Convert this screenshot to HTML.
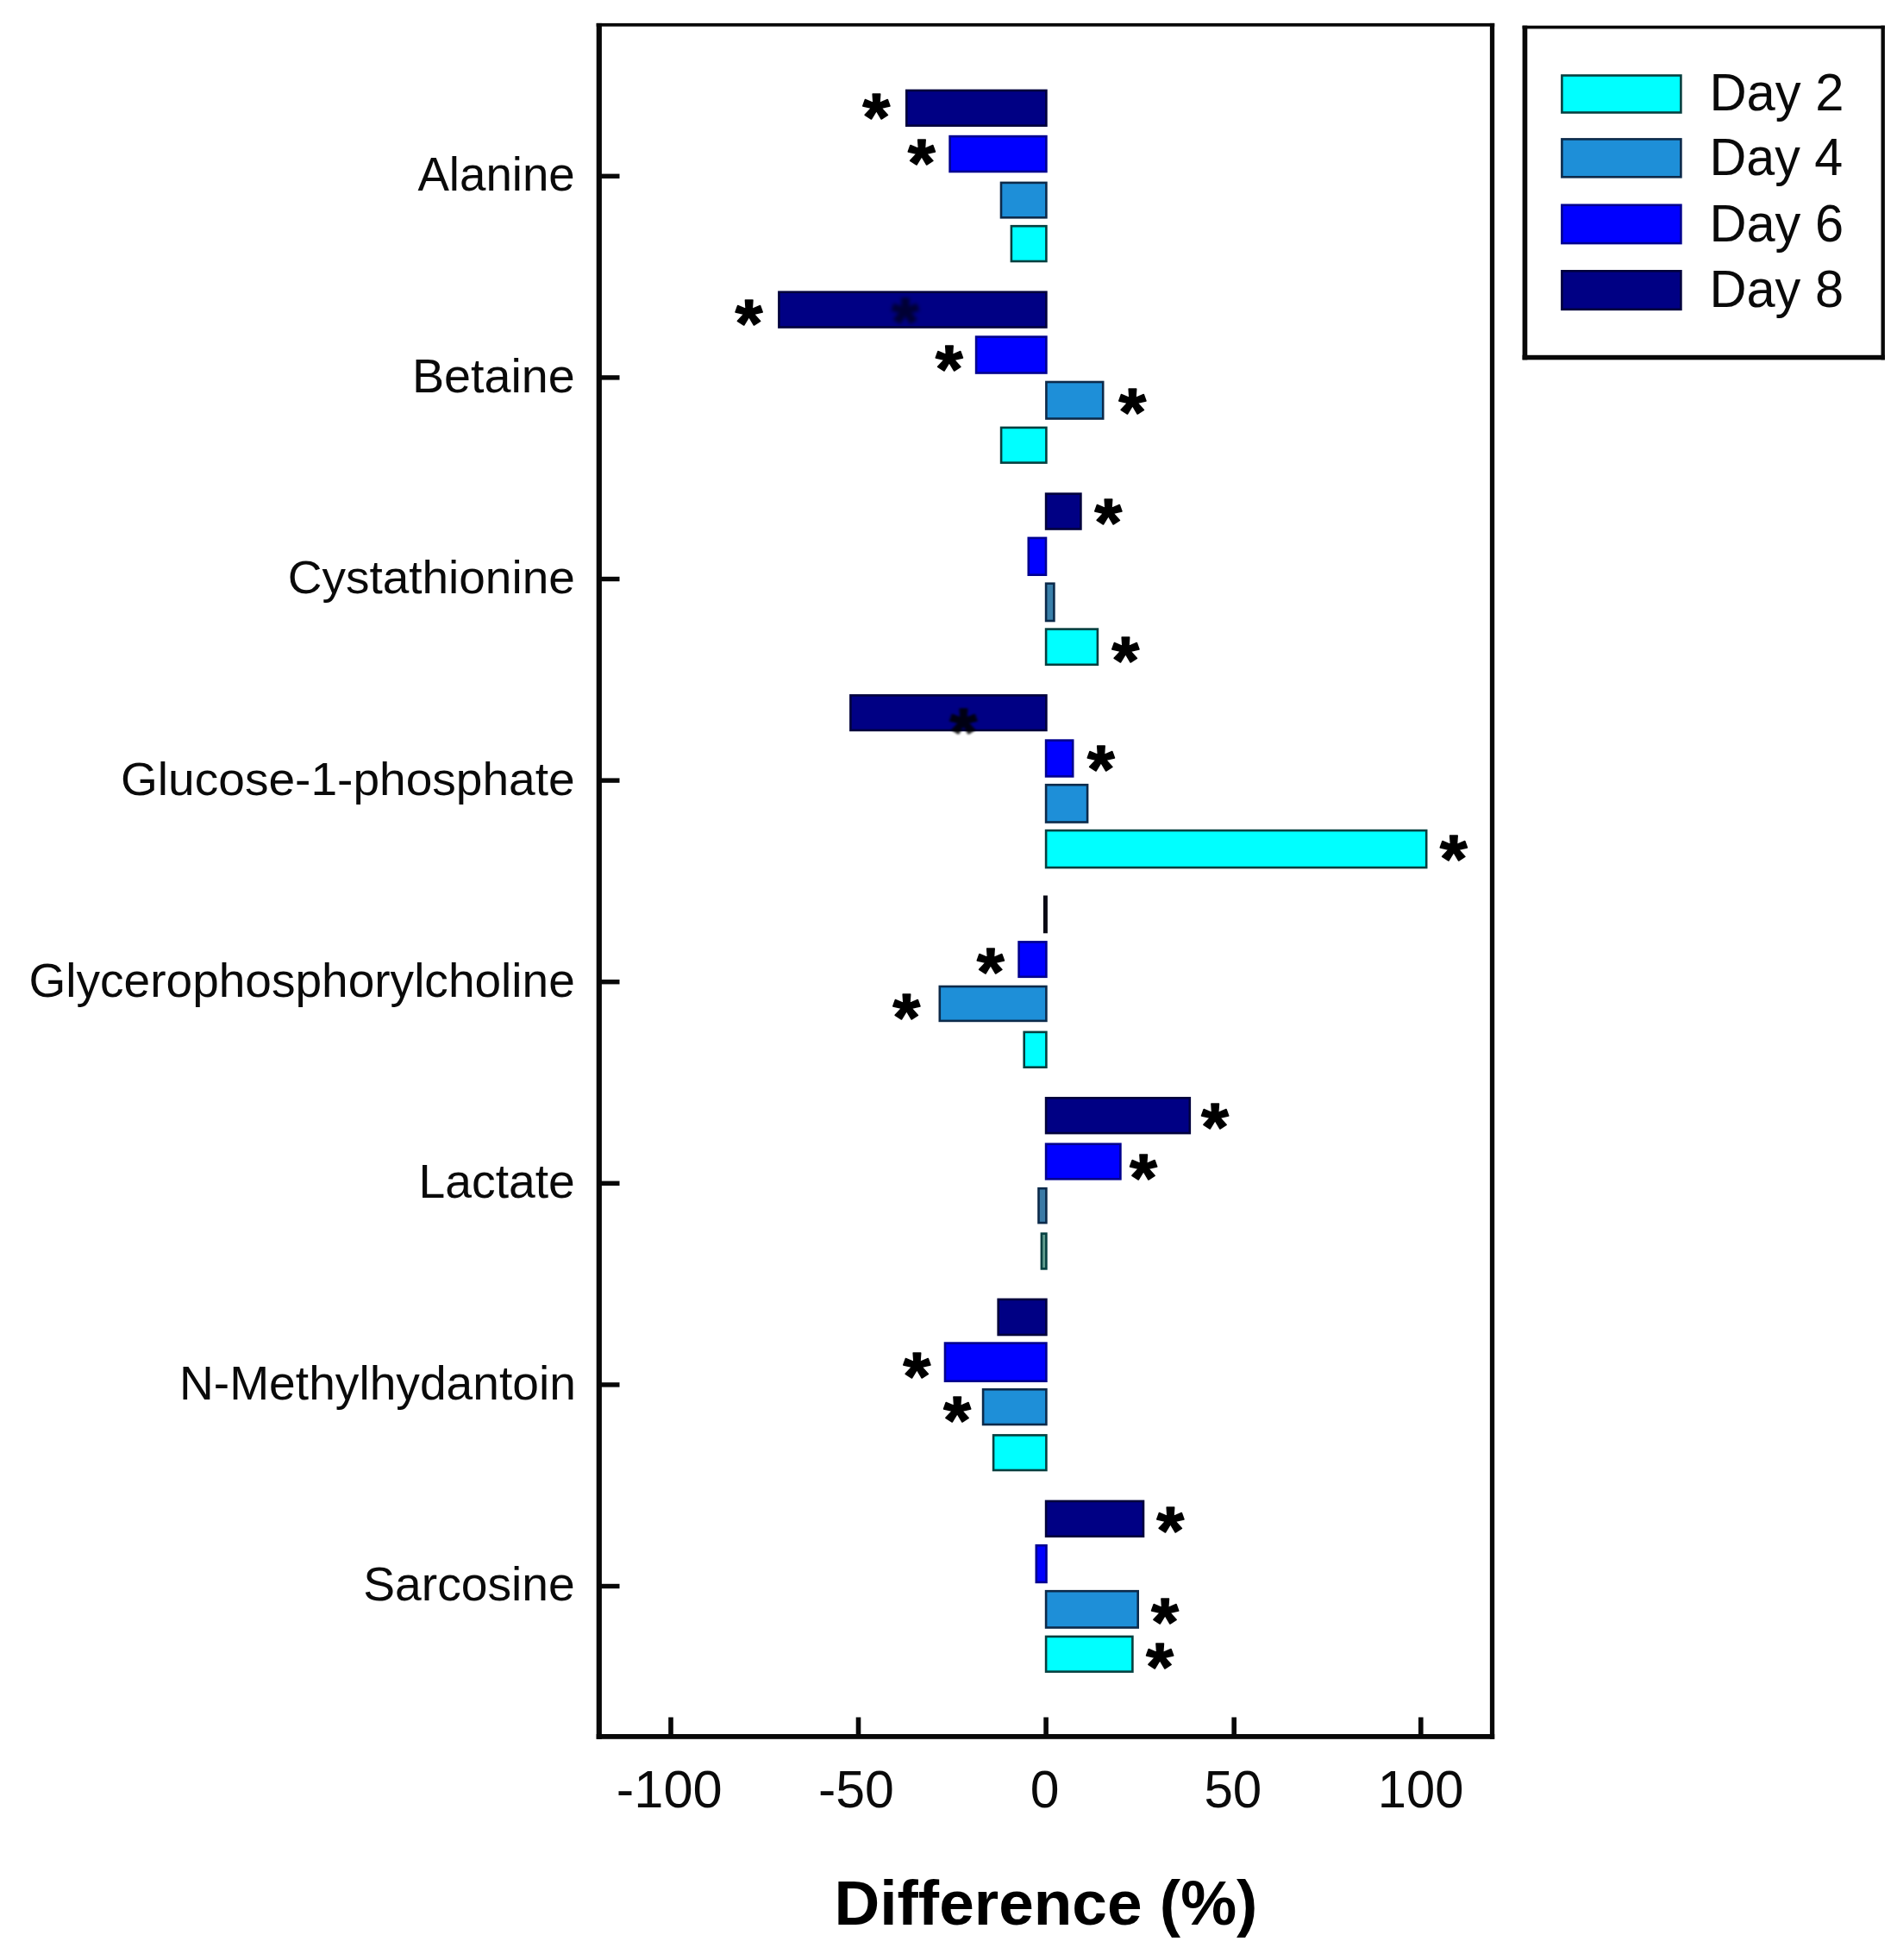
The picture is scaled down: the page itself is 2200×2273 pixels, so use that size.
<!DOCTYPE html>
<html lang="en"><head><meta charset="utf-8"><title>Difference (%) by metabolite</title>
<style>html,body{margin:0;padding:0;background:#fff}body{width:2200px;height:2273px;overflow:hidden}svg{display:block}text{font-family:"Liberation Sans",Arial,Helvetica,sans-serif;fill:#0a0a0a;font-kerning:none;font-variant-ligatures:none}.lab{font-size:54.6px}.tk{font-size:61.0px}.lg{font-size:60.0px}.ttl{font-size:72.5px;font-weight:bold;fill:#000}.st{font-size:78.0px;font-weight:bold;fill:#000;stroke:#000;stroke-width:1.5px;stroke-linejoin:round}</style></head><body>
<svg width="2200" height="2273" viewBox="0 0 2200 2273">
<defs><filter id="bl" x="-30%" y="-30%" width="160%" height="160%"><feGaussianBlur stdDeviation="1.3"/></filter><filter id="bl2" x="-30%" y="-30%" width="160%" height="160%"><feGaussianBlur stdDeviation="2.2"/></filter></defs>
<rect x="0" y="0" width="2200" height="2273" fill="#ffffff"/>
<g stroke-width="2.6" stroke-linejoin="miter">
<rect x="1051.3" y="104.9" width="162.1" height="40.8" fill="#000084" stroke="#00003c"/>
<rect x="1101.6" y="158.1" width="111.8" height="40.9" fill="#0000ff" stroke="#000090"/>
<rect x="1161.0" y="211.9" width="52.4" height="40.4" fill="#1e8fd8" stroke="#0c2a4a"/>
<rect x="1172.9" y="262.2" width="40.5" height="40.8" fill="#00ffff" stroke="#064040"/>
<rect x="903.4" y="338.7" width="310.0" height="40.8" fill="#000084" stroke="#00003c"/>
<rect x="1132.1" y="390.6" width="81.3" height="41.9" fill="#0000ff" stroke="#000090"/>
<rect x="1213.4" y="443.0" width="65.8" height="42.5" fill="#1e8fd8" stroke="#0c2a4a"/>
<rect x="1161.1" y="495.9" width="52.3" height="40.7" fill="#00ffff" stroke="#064040"/>
<rect x="1213.1" y="572.6" width="40.3" height="40.9" fill="#000084" stroke="#00003c"/>
<rect x="1192.8" y="623.9" width="20.2" height="42.8" fill="#0000ff" stroke="#000090"/>
<rect x="1213.1" y="676.7" width="9.3" height="43.3" fill="#3a80aa" stroke="#0c2a4a"/>
<rect x="1213.1" y="729.6" width="59.8" height="41.2" fill="#00ffff" stroke="#064040"/>
<rect x="986.4" y="806.4" width="227.0" height="40.5" fill="#000084" stroke="#00003c"/>
<rect x="1213.1" y="858.6" width="31.1" height="41.8" fill="#0000ff" stroke="#000090"/>
<rect x="1213.1" y="910.2" width="48.0" height="43.3" fill="#1e8fd8" stroke="#0c2a4a"/>
<rect x="1213.1" y="963.1" width="441.1" height="43.0" fill="#00ffff" stroke="#064040"/>
<rect x="1211.2" y="1039.8" width="2.4" height="41.2" fill="#0a0a14" stroke="#0a0a14"/>
<rect x="1181.6" y="1092.4" width="31.8" height="40.4" fill="#0000ff" stroke="#000090"/>
<rect x="1089.8" y="1144.0" width="123.6" height="39.9" fill="#1e8fd8" stroke="#0c2a4a"/>
<rect x="1187.7" y="1196.9" width="25.7" height="40.8" fill="#00ffff" stroke="#064040"/>
<rect x="1213.1" y="1273.3" width="166.7" height="40.8" fill="#000084" stroke="#00003c"/>
<rect x="1213.1" y="1326.7" width="86.3" height="40.6" fill="#0000ff" stroke="#000090"/>
<rect x="1204.5" y="1378.2" width="8.9" height="39.9" fill="#3a7aa6" stroke="#0c2a4a"/>
<rect x="1207.9" y="1430.6" width="5.5" height="40.8" fill="#5f9c8e" stroke="#064040"/>
<rect x="1157.7" y="1506.9" width="55.7" height="41.1" fill="#000084" stroke="#00003c"/>
<rect x="1096.0" y="1557.6" width="117.4" height="44.1" fill="#0000ff" stroke="#000090"/>
<rect x="1140.1" y="1611.3" width="73.3" height="40.7" fill="#1e8fd8" stroke="#0c2a4a"/>
<rect x="1152.1" y="1664.4" width="61.3" height="40.6" fill="#00ffff" stroke="#064040"/>
<rect x="1213.1" y="1740.9" width="112.9" height="40.8" fill="#000084" stroke="#00003c"/>
<rect x="1201.8" y="1792.2" width="11.7" height="42.7" fill="#0000ff" stroke="#000090"/>
<rect x="1213.1" y="1845.2" width="106.6" height="42.3" fill="#1e8fd8" stroke="#0c2a4a"/>
<rect x="1213.1" y="1897.9" width="100.3" height="40.7" fill="#00ffff" stroke="#064040"/>
</g>
<text class="st" transform="translate(1034.1,400.2) scale(1.04,1)" opacity="0.6" filter="url(#bl2)">*</text>
<text class="st" transform="translate(1101.6,876.1) scale(1.04,1)" opacity="0.85" filter="url(#bl)">*</text>
<g fill="#080808">
<rect x="691.7" y="26.9" width="6.2" height="1989.9"/>
<rect x="1727.9" y="26.9" width="5.3" height="1989.9"/>
<rect x="691.7" y="26.9" width="1041.5" height="3.8"/>
<rect x="691.7" y="2011.0" width="1041.5" height="5.8"/>
<rect x="696.9" y="201.6" width="21.6" height="5.4"/>
<rect x="696.9" y="435.2" width="21.6" height="5.4"/>
<rect x="696.9" y="668.8" width="21.6" height="5.4"/>
<rect x="696.9" y="902.4" width="21.6" height="5.4"/>
<rect x="696.9" y="1136.0" width="21.6" height="5.4"/>
<rect x="696.9" y="1369.6" width="21.6" height="5.4"/>
<rect x="696.9" y="1603.2" width="21.6" height="5.4"/>
<rect x="696.9" y="1836.8" width="21.6" height="5.4"/>
<rect x="775.2" y="1991.5" width="5.6" height="20.5"/>
<rect x="992.7" y="1991.5" width="5.6" height="20.5"/>
<rect x="1210.3" y="1991.5" width="5.6" height="20.5"/>
<rect x="1428.4" y="1991.5" width="5.6" height="20.5"/>
<rect x="1645.0" y="1991.5" width="5.6" height="20.5"/>
</g>
<text class="lab" transform="translate(484.39,221.20) scale(1.0016,1.0000)">Alanine</text>
<text class="lab" transform="translate(477.93,454.80) scale(1.0203,1.0000)">Betaine</text>
<text class="lab" transform="translate(333.71,688.40) scale(1.0070,1.0000)">Cystathionine</text>
<text class="lab" transform="translate(140.03,922.00) scale(1.0091,1.0000)">Glucose-1-phosphate</text>
<text class="lab" transform="translate(33.53,1155.60) scale(1.0081,1.0000)">Glycerophosphorylcholine</text>
<text class="lab" transform="translate(485.57,1389.20) scale(1.0122,1.0000)">Lactate</text>
<text class="lab" transform="translate(207.97,1622.80) scale(1.0105,1.0000)">N-Methylhydantoin</text>
<text class="lab" transform="translate(421.19,1856.40) scale(1.0118,1.0000)">Sarcosine</text>
<text class="tk" transform="translate(714.87,2096.20) scale(1.0060,1.0000)">-100</text>
<text class="tk" transform="translate(949.00,2096.20) scale(0.9979,1.0000)">-50</text>
<text class="tk" transform="translate(1194.63,2096.20) scale(0.9945,1.0000)">0</text>
<text class="tk" transform="translate(1396.39,2096.20) scale(0.9869,1.0000)">50</text>
<text class="tk" transform="translate(1597.85,2096.20) scale(0.9795,1.0000)">100</text>
<text class="ttl" transform="translate(967.52,2232.40) scale(1.0069,1.0000)">Difference (%)</text>
<text class="st" transform="translate(1000.6,162.7) scale(1.04,1)">*</text>
<text class="st" transform="translate(1052.9,216.2) scale(1.04,1)">*</text>
<text class="st" transform="translate(852.8,401.7) scale(1.04,1)">*</text>
<text class="st" transform="translate(1085.1,455.2) scale(1.04,1)">*</text>
<text class="st" transform="translate(1297.6,505.2) scale(1.04,1)">*</text>
<text class="st" transform="translate(1269.6,633.2) scale(1.04,1)">*</text>
<text class="st" transform="translate(1289.6,792.7) scale(1.04,1)">*</text>
<text class="st" transform="translate(1260.9,919.2) scale(1.04,1)">*</text>
<text class="st" transform="translate(1670.1,1022.8) scale(1.04,1)">*</text>
<text class="st" transform="translate(1133.1,1153.8) scale(1.04,1)">*</text>
<text class="st" transform="translate(1035.6,1206.6) scale(1.04,1)">*</text>
<text class="st" transform="translate(1393.3,1334.2) scale(1.04,1)">*</text>
<text class="st" transform="translate(1310.3,1392.7) scale(1.04,1)">*</text>
<text class="st" transform="translate(1047.5,1623.2) scale(1.04,1)">*</text>
<text class="st" transform="translate(1094.3,1674.2) scale(1.04,1)">*</text>
<text class="st" transform="translate(1341.6,1802.4) scale(1.04,1)">*</text>
<text class="st" transform="translate(1335.3,1908.4) scale(1.04,1)">*</text>
<text class="st" transform="translate(1329.3,1959.8) scale(1.04,1)">*</text>
<g fill="#080808">
<rect x="1765.6" y="29.7" width="5.7" height="387.6"/>
<rect x="2181.5" y="29.7" width="4.4" height="387.6"/>
<rect x="1765.6" y="29.7" width="420.3" height="3.7"/>
<rect x="1765.6" y="411.8" width="420.3" height="5.5"/>
</g>
<rect x="1811.4" y="87.5" width="138.0" height="43.0" fill="#00ffff" stroke="#064040" stroke-width="2.6"/>
<text class="lg" transform="translate(1982.40,127.60) scale(0.9960,1.0300)">Day 2</text>
<rect x="1811.4" y="161.4" width="138.0" height="43.9" fill="#1e8fd8" stroke="#0c2a4a" stroke-width="2.6"/>
<text class="lg" transform="translate(1982.44,203.20) scale(0.9876,1.0300)">Day 4</text>
<rect x="1811.4" y="237.8" width="138.0" height="44.3" fill="#0000ff" stroke="#000090" stroke-width="2.6"/>
<text class="lg" transform="translate(1982.41,280.00) scale(0.9934,1.0300)">Day 6</text>
<rect x="1811.4" y="314.3" width="138.0" height="44.5" fill="#000084" stroke="#00003c" stroke-width="2.6"/>
<text class="lg" transform="translate(1982.41,356.10) scale(0.9932,1.0300)">Day 8</text>
</svg></body></html>
